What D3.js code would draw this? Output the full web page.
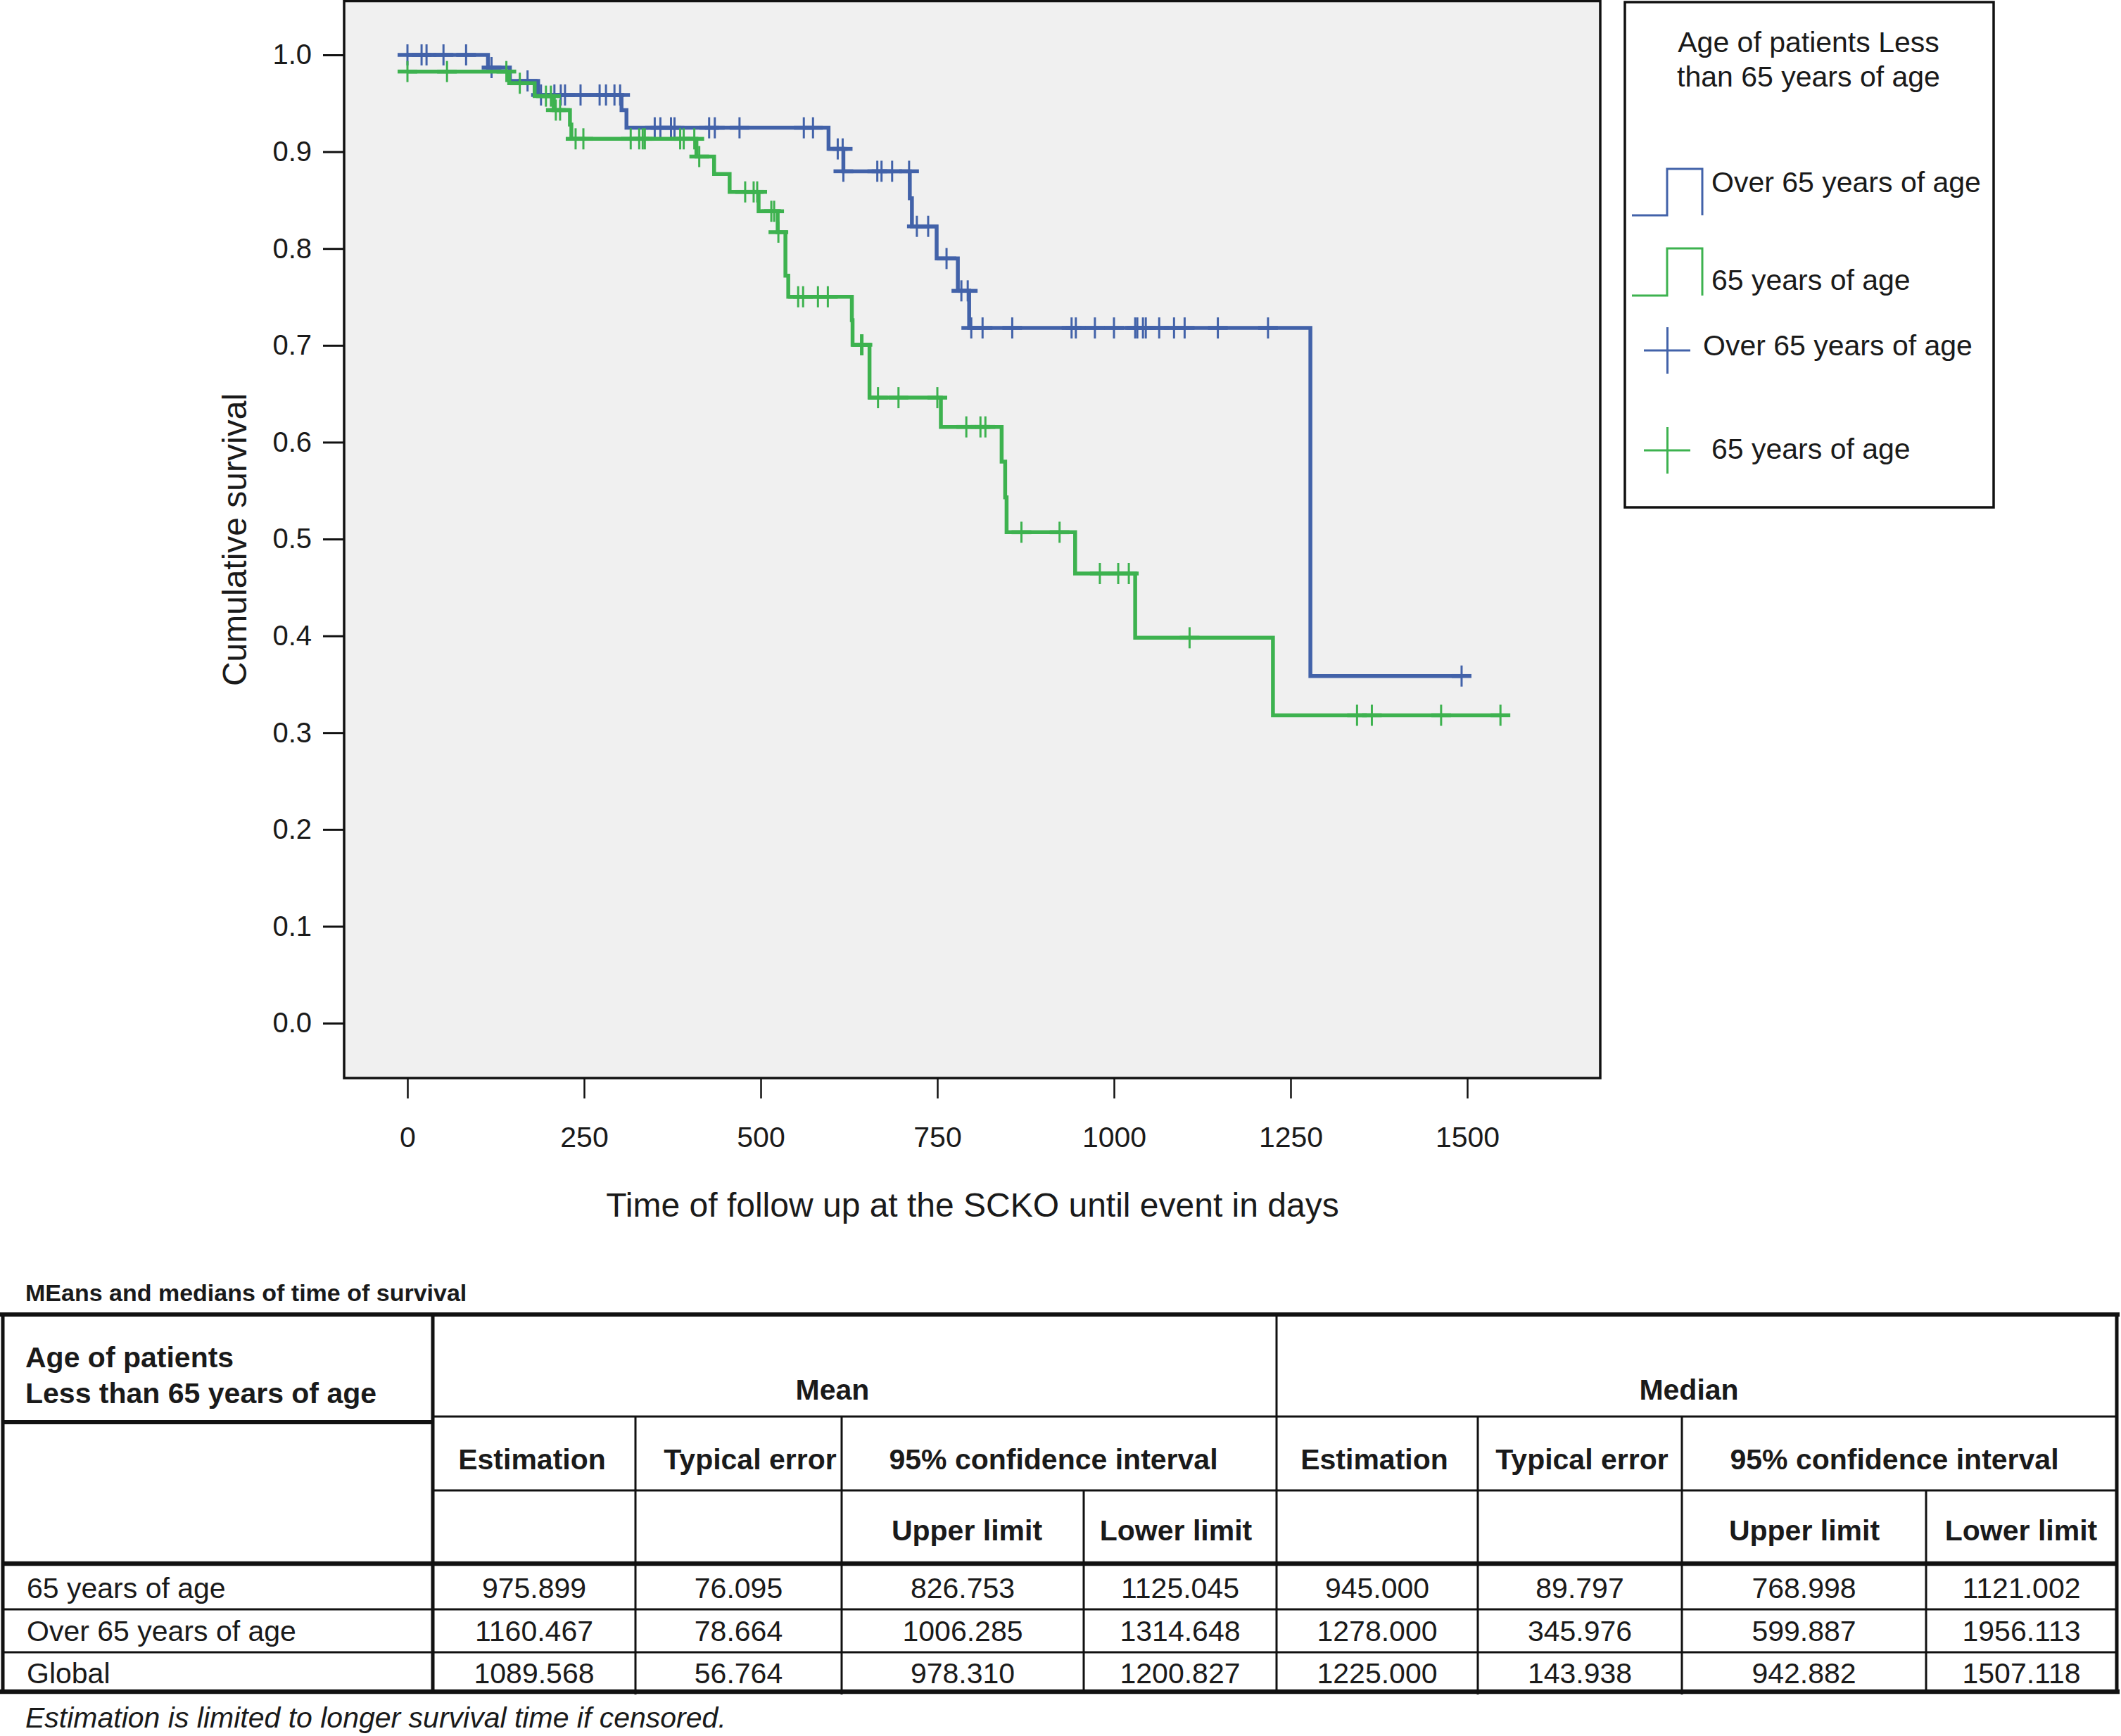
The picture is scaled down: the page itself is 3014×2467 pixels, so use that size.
<!DOCTYPE html>
<html>
<head>
<meta charset="utf-8">
<script src="https://cdn.jsdelivr.net/npm/d3@7"></script>
<style>
html,body{margin:0;padding:0;background:#fff;}
svg{display:block;}
text{font-family:"Liberation Sans",Arial,Helvetica,sans-serif;fill:#1a1a1a;}
</style>
</head>
<body>
<svg id="chart" width="3014" height="2467"></svg>
<script>
// ---------------- DATA ----------------
const xTicks = [0, 250, 500, 750, 1000, 1250, 1500];
const yTicks = [0, 0.1, 0.2, 0.3, 0.4, 0.5, 0.6, 0.7, 0.8, 0.9, 1.0];
const xTitle = "Time of follow up at the SCKO until event in days";
const yTitle = "Cumulative survival";

// Over 65 years of age (blue): [time in days, cumulative survival after the event]
const overSteps = [
  [0, 1.0], [114, 0.9869], [145, 0.9731], [185, 0.9586], [303, 0.943], [310, 0.9247],
  [596, 0.9029], [617, 0.8798], [711, 0.852], [714, 0.8229], [749, 0.7897],
  [779, 0.7563], [795, 0.718], [1278, 0.3585]
];
const overCensored = [0, 20, 27, 51, 83, 119, 170, 189, 208, 217, 223, 245, 272, 281, 293, 301,
  350, 358, 373, 378, 427, 435, 470, 561, 574, 609, 616, 617, 665, 671, 686, 710, 721, 737,
  763, 784, 793, 798, 814, 856, 940, 946, 973, 1000, 1030, 1033, 1041, 1045, 1064, 1085,
  1100, 1147, 1218, 1492];

// 65 years of age (green)
const underSteps = [
  [0, 0.9828], [144, 0.9707], [180, 0.9574], [207, 0.943], [230, 0.928], [232, 0.9133],
  [409, 0.895], [434, 0.877], [456, 0.8585], [497, 0.8385], [524, 0.8169], [535, 0.772],
  [539, 0.7502], [629, 0.726], [630, 0.7006], [654, 0.646], [755, 0.6158], [841, 0.580],
  [846, 0.543], [848, 0.507], [945, 0.4644], [1030, 0.398], [1225, 0.318]
];
const underCensored = [0, 56, 140, 159, 196, 203, 210, 216, 238, 249, 316, 328, 333, 336, 386,
  391, 406, 413, 478, 490, 495, 515, 519, 525, 553, 560, 581, 595, 642, 644, 666, 695, 750,
  791, 811, 818, 869, 923, 980, 1006, 1021, 1107, 1344, 1365, 1463, 1547];

const legendTitle = ["Age of patients Less", "than 65 years of age"];
const groupNames = ["Over 65 years of age", "65 years of age"];
const groupColors = ["#4262a9", "#3db24f"];

// Table
const tableTitle = "MEans and medians of time of survival";
const tableCorner = ["Age of patients", "Less than 65 years of age"];
const statGroups = ["Mean", "Median"];
const subHeads = ["Estimation", "Typical error", "95% confidence interval"];
const limitHeads = ["Upper limit", "Lower limit"];
const rowLabels = ["65 years of age", "Over 65 years of age", "Global"];
const rowUnder = ["975.899", "76.095", "826.753", "1125.045", "945.000", "89.797", "768.998", "1121.002"];
const rowOver = ["1160.467", "78.664", "1006.285", "1314.648", "1278.000", "345.976", "599.887", "1956.113"];
const rowGlobal = ["1089.568", "56.764", "978.310", "1200.827", "1225.000", "143.938", "942.882", "1507.118"];
const footnote = "Estimation is limited to longer survival time if censored.";

// ---------------- DRAW ----------------
const svg = d3.select("#chart");
const x = d3.scaleLinear().domain([0, 1500]).range([579, 2085]);
const y = d3.scaleLinear().domain([0, 1]).range([1454, 78]);
const xMin = x.invert(489), xMax = x.invert(2274);
const yMin = y.invert(1532), yMax = y.invert(1.5);

// plot background + frame
svg.append("rect")
  .attr("x", x(xMin)).attr("y", y(yMax))
  .attr("width", x(xMax) - x(xMin)).attr("height", y(yMin) - y(yMax))
  .attr("fill", "#f0f0f0").attr("stroke", "#111").attr("stroke-width", 3.5);

// axes
const yAxis = d3.axisLeft(y).tickValues(yTicks).tickFormat(d3.format(".1f")).tickSize(30).tickPadding(16);
const gy = svg.append("g").attr("transform", `translate(${x(xMin)},0)`).call(yAxis);
gy.select(".domain").remove();
gy.selectAll(".tick line").attr("stroke", "#111").attr("stroke-width", 3);
gy.selectAll(".tick text").attr("font-size", 40).attr("fill", "#1a1a1a")
  .attr("font-family", '"Liberation Sans",Arial,sans-serif');

const xAxis = d3.axisBottom(x).tickValues(xTicks).tickFormat(d3.format("d")).tickSize(29).tickPadding(40);
const gx = svg.append("g").attr("transform", `translate(0,${y(yMin)})`).call(xAxis);
gx.select(".domain").remove();
gx.selectAll(".tick line").attr("stroke", "#111").attr("stroke-width", 2.5);
gx.selectAll(".tick text").attr("font-size", 41).attr("fill", "#1a1a1a")
  .attr("font-family", '"Liberation Sans",Arial,sans-serif');

svg.append("text").attr("x", 1382).attr("y", 1729).attr("text-anchor", "middle")
  .attr("font-size", 48).text(xTitle);
svg.append("text").attr("transform", "translate(350,767) rotate(-90)").attr("text-anchor", "middle")
  .attr("font-size", 48).text(yTitle);

// curves
function survAt(steps, t) {
  let s = steps[0][1];
  for (const st of steps) { if (st[0] <= t) s = st[1]; }
  return s;
}
function drawGroup(steps, cens, color) {
  const end = d3.max(cens.concat(steps.map(d => d[0])));
  const pts = steps.concat([[end, steps[steps.length - 1][1]]]);
  const line = d3.line().x(d => x(d[0])).y(d => y(d[1])).curve(d3.curveStepAfter);
  const g = svg.append("g");
  g.append("path").attr("d", line(pts)).attr("fill", "none").attr("stroke", color)
    .attr("stroke-width", 5.5).attr("stroke-linejoin", "miter");
  const marks = g.selectAll("g.c").data(cens).join("g")
    .attr("transform", d => `translate(${x(d)},${y(survAt(steps, d))})`);
  marks.append("line").attr("x1", 0).attr("x2", 0).attr("y1", -15).attr("y2", 15)
    .attr("stroke", color).attr("stroke-width", 3);
  marks.append("line").attr("x1", -14).attr("x2", 14).attr("y1", 0).attr("y2", 0)
    .attr("stroke", color).attr("stroke-width", 5.5);
}
drawGroup(overSteps, overCensored, groupColors[0]);
drawGroup(underSteps, underCensored, groupColors[1]);

// legend
const lg = svg.append("g");
lg.append("rect").attr("x", 2309).attr("y", 3).attr("width", 524).attr("height", 718)
  .attr("fill", "#fff").attr("stroke", "#111").attr("stroke-width", 3.5);
lg.selectAll("text.lt").data(legendTitle).join("text")
  .attr("x", 2570).attr("y", (d, i) => 74 + i * 49).attr("text-anchor", "middle")
  .attr("font-size", 41).text(d => d);
const stepRows = [{ y0: 306, y1: 240, c: groupColors[0], t: groupNames[0], ty: 273 },
                  { y0: 420, y1: 353, c: groupColors[1], t: groupNames[1], ty: 412 }];
stepRows.forEach(r => {
  lg.append("path").attr("d", `M2319,${r.y0}H2369V${r.y1}H2419V${r.y0}`)
    .attr("fill", "none").attr("stroke", r.c).attr("stroke-width", 3);
  lg.append("text").attr("x", 2432).attr("y", r.ty).attr("font-size", 41).text(r.t);
});
const plusRows = [{ cy: 498, c: groupColors[0], t: groupNames[0], tx: 2420, ty: 505 },
                  { cy: 640, c: groupColors[1], t: groupNames[1], tx: 2432, ty: 652 }];
plusRows.forEach(r => {
  lg.append("line").attr("x1", 2369.5).attr("x2", 2369.5).attr("y1", r.cy - 33).attr("y2", r.cy + 33)
    .attr("stroke", r.c).attr("stroke-width", 3);
  lg.append("line").attr("x1", 2336).attr("x2", 2402).attr("y1", r.cy).attr("y2", r.cy)
    .attr("stroke", r.c).attr("stroke-width", 3);
  lg.append("text").attr("x", r.tx).attr("y", r.ty).attr("font-size", 41).text(r.t);
});

// ---------------- TABLE ----------------
const tg = svg.append("g");
const colX = [4, 615, 903, 1196, 1540, 1814, 2100, 2390, 2737, 3008];
const rowsY = [2271, 2332, 2392];
function hl(x1, x2, yy, w) {
  tg.append("line").attr("x1", x1).attr("x2", x2).attr("y1", yy).attr("y2", yy)
    .attr("stroke", "#111").attr("stroke-width", w);
}
function vl(xx, y1, y2, w) {
  tg.append("line").attr("x1", xx).attr("x2", xx).attr("y1", y1).attr("y2", y2)
    .attr("stroke", "#111").attr("stroke-width", w);
}
hl(0, 3012, 1868, 6);
hl(0, 3012, 2404, 6.5);
hl(4, 3008, 2222, 6.5);
hl(4, 615, 2021, 6);
hl(615, 3008, 2013, 3);
hl(615, 3008, 2118, 3);
hl(4, 3008, 2287, 3);
hl(4, 3008, 2348, 3);
vl(4, 1868, 2404, 5);
vl(3008, 1868, 2404, 5);
vl(615, 1868, 2404, 5);
vl(1814, 1868, 2404, 3);
[903, 1196, 2100, 2390].forEach(c => vl(c, 2013, 2408, 3));
[1540, 2737].forEach(c => vl(c, 2118, 2404, 3));

tg.append("text").attr("x", 36).attr("y", 1849).attr("font-size", 34).attr("font-weight", "bold").text(tableTitle);
tg.selectAll("text.corner").data(tableCorner).join("text")
  .attr("x", 36).attr("y", (d, i) => 1943 + i * 51).attr("font-size", 41).attr("font-weight", "bold").text(d => d);
const groupCx = [1183, 2400];
statGroups.forEach((s, i) => tg.append("text").attr("x", groupCx[i]).attr("y", 1989)
  .attr("text-anchor", "middle").attr("font-size", 41).attr("font-weight", "bold").text(s));
const subCx = [[756, 1066, 1497], [1953, 2248, 2692]];
subCx.forEach(arr => arr.forEach((cx, j) => tg.append("text").attr("x", cx).attr("y", 2088)
  .attr("text-anchor", "middle").attr("font-size", 41).attr("font-weight", "bold").text(subHeads[j])));
const limCx = [[1374, 1671], [2564, 2872]];
limCx.forEach(arr => arr.forEach((cx, j) => tg.append("text").attr("x", cx).attr("y", 2189)
  .attr("text-anchor", "middle").attr("font-size", 41).attr("font-weight", "bold").text(limitHeads[j])));

const rowValues = [rowUnder, rowOver, rowGlobal];
rowLabels.forEach((lab, i) => {
  tg.append("text").attr("x", 38).attr("y", rowsY[i]).attr("font-size", 41).text(lab);
  rowValues[i].forEach((v, j) => {
    const cx = (colX[j + 1] + colX[j + 2]) / 2;
    tg.append("text").attr("x", cx).attr("y", rowsY[i]).attr("text-anchor", "middle")
      .attr("font-size", 41).text(v);
  });
});
tg.append("text").attr("x", 36).attr("y", 2455).attr("font-size", 41).attr("font-style", "italic").text(footnote);
</script>
</body>
</html>
